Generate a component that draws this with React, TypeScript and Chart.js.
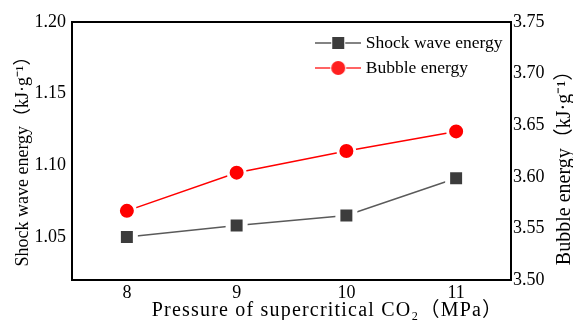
import React, { useEffect, useRef } from 'react';
import { Chart, registerables } from 'chart.js';

Chart.register(...registerables);

const pressures = ['8', '9', '10', '11'];
const shockWaveEnergy = [1.05, 1.058, 1.065, 1.091];
const bubbleEnergy = [3.567, 3.604, 3.625, 3.644];
const leftTicks = [1.05, 1.1, 1.15, 1.2];
const rightTicks = [3.5, 3.55, 3.6, 3.65, 3.7, 3.75];
const seriesNames = ['Shock wave energy', 'Bubble energy'];
const xTitle = 'Pressure of supercritical CO₂（MPa）';
const leftTitle = 'Shock wave energy（kJ·g⁻¹）';
const rightTitle = 'Bubble energy（kJ·g⁻¹）';

const FONT = "'Liberation Serif', 'Times New Roman', 'Noto Sans CJK SC', serif";

function makeIcon(kind: 'rect' | 'circle'): HTMLCanvasElement {
  const c = document.createElement('canvas');
  c.width = 46;
  c.height = 22;
  const g = c.getContext('2d')!;
  g.strokeStyle = kind === 'rect' ? '#5a5a5a' : '#ff3030';
  g.lineWidth = 1.5;
  g.beginPath();
  g.moveTo(0, 11);
  g.lineTo(46, 11);
  g.stroke();
  if (kind === 'rect') {
    g.fillStyle = '#ffffff';
    g.fillRect(16, 4, 14, 14);
    g.fillStyle = '#3c3c3c';
    g.fillRect(17, 5, 12, 12);
  } else {
    g.fillStyle = '#ffffff';
    g.beginPath();
    g.arc(23, 11, 8, 0, Math.PI * 2);
    g.fill();
    g.fillStyle = '#ff2020';
    g.beginPath();
    g.arc(23, 11, 7, 0, Math.PI * 2);
    g.fill();
  }
  return c;
}

const legendPlacer = {
  id: 'legendPlacer',
  afterLayout(chart: any) {
    const lg = chart.legend;
    if (!lg) return;
    const ca = chart.chartArea;
    const w = lg.width;
    const h = lg.height;
    lg.left = ca.right - 199;
    lg.top = ca.top + 4.75;
    lg.right = lg.left + w;
    lg.bottom = lg.top + h;
  },
};

const axisTitles = {
  id: 'axisTitles',
  afterDraw(chart: any) {
    const { ctx, chartArea: ca } = chart;
    const midX = (ca.left + ca.right) / 2;
    const midY = (ca.top + ca.bottom) / 2;
    ctx.save();
    ctx.fillStyle = '#000';
    ctx.textAlign = 'center';
    ctx.textBaseline = 'middle';
    ctx.font = `20px ${FONT}`;
    (ctx as any).letterSpacing = '1.2px';
    ctx.fillText(xTitle, midX + 36, ca.bottom + 31);
    (ctx as any).letterSpacing = '0px';
    ctx.font = `18px ${FONT}`;
    ctx.save();
    ctx.translate(ca.left - 49, midY + 6);
    ctx.rotate(-Math.PI / 2);
    ctx.fillText(leftTitle, 0, 0);
    ctx.restore();
    ctx.font = `20px ${FONT}`;
    ctx.save();
    ctx.translate(ca.right + 54, midY + 12);
    ctx.rotate(-Math.PI / 2);
    ctx.fillText(rightTitle, 0, 0);
    ctx.restore();
    ctx.restore();
  },
};

export default function App() {
  const ref = useRef<HTMLCanvasElement>(null);
  useEffect(() => {
    if (!ref.current) return;
    const icons = [makeIcon('rect'), makeIcon('circle')];
    const tickFont = { family: FONT, size: 18 };
    const noGrid = { color: 'rgba(0,0,0,0)', drawTicks: false };
    const frame = { display: true, color: '#000', width: 2 };
    const chart = new Chart(ref.current, {
      type: 'line',
      data: {
        labels: pressures,
        datasets: [
          {
            label: seriesNames[0],
            data: shockWaveEnergy,
            yAxisID: 'y',
            borderColor: '#5a5a5a',
            backgroundColor: '#3c3c3c',
            borderWidth: 1.5,
            pointStyle: 'rect',
            pointRadius: 12,
            pointBorderWidth: 5,
            pointBorderColor: '#ffffff',
            pointBackgroundColor: '#3c3c3c',
            tension: 0,
          },
          {
            label: seriesNames[1],
            data: bubbleEnergy,
            yAxisID: 'y1',
            borderColor: '#ff0000',
            backgroundColor: '#ff0000',
            borderWidth: 1.5,
            pointStyle: 'circle',
            pointRadius: 8.5,
            pointBorderWidth: 3,
            pointBorderColor: '#ffffff',
            pointBackgroundColor: '#ff0000',
            tension: 0,
          },
        ],
      },
      options: {
        animation: false,
        responsive: false,
        devicePixelRatio: 1,
        layout: { padding: { top: 22, left: 0, right: 0, bottom: 0 } },
        plugins: {
          tooltip: { enabled: false },
          legend: {
            position: 'chartArea' as any,
            align: 'start',
            labels: {
              usePointStyle: true,
              pointStyleWidth: 37.5,
              padding: 7.5,
              color: '#000',
              font: { family: FONT, size: 17.5 },
              generateLabels: (c: any) =>
                (Chart.defaults.plugins.legend.labels.generateLabels as any)(c).map((it: any, i: number) => ({
                  ...it,
                  pointStyle: icons[i],
                })),
            },
          },
        },
        scales: {
          x: {
            type: 'category',
            position: 'bottom',
            offset: true,
            grid: noGrid,
            border: frame,
            ticks: { color: '#000', font: tickFont, padding: 2 },
            afterFit: (s: any) => {
              s.height = 40;
            },
          },
          xTop: {
            type: 'category',
            position: 'top',
            offset: true,
            grid: noGrid,
            border: frame,
            ticks: { display: false },
            afterFit: (s: any) => {
              s.height = 0;
            },
          },
          y: {
            type: 'linear',
            position: 'left',
            min: 1.02,
            max: 1.2,
            grid: noGrid,
            border: frame,
            afterBuildTicks: (s: any) => {
              s.ticks = leftTicks.map((v) => ({ value: v }));
            },
            ticks: {
              color: '#000',
              font: tickFont,
              padding: 6,
              callback: (v: any) => Number(v).toFixed(2),
            },
            afterFit: (s: any) => {
              s.width = 72;
            },
          },
          y1: {
            type: 'linear',
            position: 'right',
            min: 3.5,
            max: 3.75,
            grid: noGrid,
            border: frame,
            afterBuildTicks: (s: any) => {
              s.ticks = rightTicks.map((v) => ({ value: v }));
            },
            ticks: {
              color: '#000',
              font: tickFont,
              padding: 2,
              callback: (v: any) => Number(v).toFixed(2),
            },
            afterFit: (s: any) => {
              s.width = 62;
            },
          },
        },
      } as any,
      plugins: [legendPlacer, axisTitles],
    });
    return () => chart.destroy();
  }, []);
  return (
    <div style={{ position: 'absolute', left: 0, top: 0, width: 573, height: 320, background: '#fff' }}>
      <canvas ref={ref} width={573} height={320} style={{ display: 'block', width: 573, height: 320 }} />
    </div>
  );
}
